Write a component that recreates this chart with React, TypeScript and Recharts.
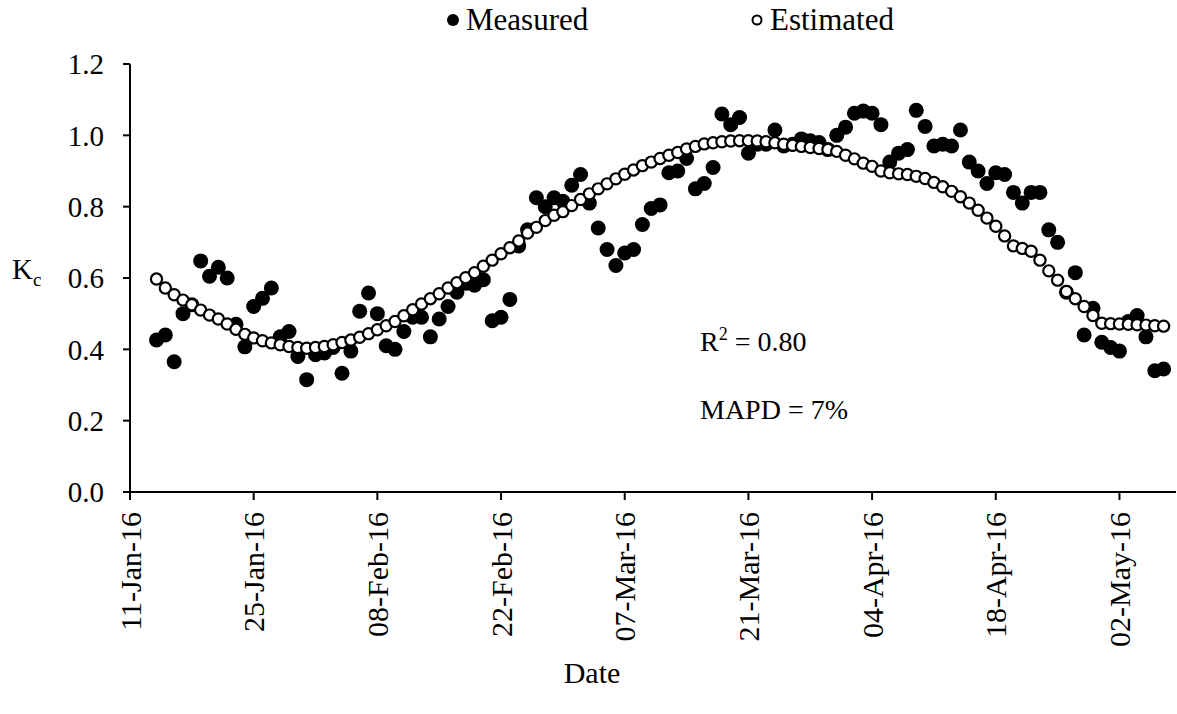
import { ScatterChart, Scatter, XAxis, YAxis, Legend } from "recharts";

const FONT = '"Liberation Serif", "Times New Roman", serif';

// x axis: days counted from 11-Jan-16, ticks every two weeks
const tickDays = [0, 14, 28, 42, 56, 70, 84, 98, 112];
const tickLabels = [
  "11-Jan-16", "25-Jan-16", "08-Feb-16", "22-Feb-16", "07-Mar-16",
  "21-Mar-16", "04-Apr-16", "18-Apr-16", "02-May-16",
];
const yTicks = [0, 0.2, 0.4, 0.6, 0.8, 1.0, 1.2];

// first observation is 13-Jan-16 (day 3 from the axis origin), one value per day
const firstDay = 3;

const measured = [
  0.426, 0.44, 0.365, 0.5, 0.525, 0.648, 0.605, 0.63, 0.6, 0.47,
  0.407, 0.52, 0.543, 0.572, 0.435, 0.45, 0.38, 0.315, 0.385, 0.39,
  0.405, 0.333, 0.395, 0.507, 0.558, 0.5, 0.41, 0.4, 0.45, 0.49,
  0.49, 0.435, 0.485, 0.52, 0.56, 0.585, 0.58, 0.595, 0.48, 0.49,
  0.54, 0.69, 0.735, 0.825, 0.8, 0.825, 0.815, 0.86, 0.89, 0.81,
  0.74, 0.68, 0.635, 0.67, 0.68, 0.75, 0.795, 0.805, 0.895, 0.9,
  0.935, 0.85, 0.865, 0.91, 1.06, 1.03, 1.05, 0.95, 0.975, 0.975,
  1.015, 0.97, 0.975, 0.99, 0.985, 0.98, 0.96, 1.0, 1.023, 1.062,
  1.068, 1.062, 1.03, 0.925, 0.95, 0.96, 1.07, 1.025, 0.97, 0.975,
  0.97, 1.015, 0.925, 0.9, 0.865, 0.895, 0.89, 0.84, 0.81, 0.84,
  0.84, 0.735, 0.7, 0.56, 0.615, 0.44, 0.515, 0.42, 0.405, 0.395,
  0.478, 0.495, 0.435, 0.34, 0.345,
];

const estimated = [
  0.597, 0.572, 0.553, 0.538, 0.525, 0.51, 0.496, 0.485, 0.471, 0.456,
  0.442, 0.432, 0.424, 0.418, 0.413, 0.408, 0.405, 0.403, 0.405, 0.408,
  0.413, 0.419, 0.426, 0.434, 0.444, 0.455, 0.466, 0.478, 0.494, 0.511,
  0.527, 0.542, 0.556, 0.572, 0.587, 0.601, 0.615, 0.633, 0.65, 0.668,
  0.685, 0.704, 0.726, 0.742, 0.761, 0.776, 0.786, 0.803, 0.82, 0.836,
  0.85, 0.864, 0.878, 0.891, 0.903, 0.915, 0.925, 0.935, 0.944, 0.952,
  0.962, 0.969, 0.976, 0.979, 0.982, 0.984, 0.985, 0.985, 0.984, 0.982,
  0.979, 0.975, 0.972, 0.969, 0.966, 0.963, 0.96, 0.955, 0.944, 0.934,
  0.922, 0.913, 0.9, 0.895, 0.892, 0.89, 0.885, 0.879, 0.868, 0.856,
  0.843, 0.828, 0.81, 0.79, 0.768, 0.745, 0.718, 0.69, 0.683, 0.675,
  0.65, 0.62, 0.594, 0.562, 0.542, 0.52, 0.495, 0.473, 0.472, 0.471,
  0.47, 0.469, 0.468, 0.466, 0.465,
];

const measuredData = measured.map((kc, i) => ({ day: firstDay + i, kc }));
const estimatedData = estimated.map((kc, i) => ({ day: firstDay + i, kc }));

function DateTick({ x, y, payload }: any) {
  const label = tickLabels[tickDays.indexOf(payload.value)];
  return (
    <text
      x={x}
      y={y}
      dy="0.35em"
      textAnchor="end"
      transform={`rotate(-90, ${x}, ${y})`}
      fontSize={30}
      fontFamily={FONT}
      fill="#000"
    >
      {label}
    </text>
  );
}

function FilledDot({ cx, cy }: any) {
  return <circle cx={cx} cy={cy} r={7.5} fill="#000" />;
}

function OpenDot({ cx, cy }: any) {
  return <circle cx={cx} cy={cy} r={5.6} fill="#fff" stroke="#000" strokeWidth={2.2} />;
}

function LegendBox() {
  const item = { position: "absolute" as const, top: 0, height: 40, display: "flex", alignItems: "center", fontFamily: FONT, fontSize: 31, color: "#000" };
  return (
    <div style={{ position: "relative", width: 1177, height: 40 }}>
      <div style={{ ...item, left: 446 }}>
        <svg width={14} height={14} style={{ marginRight: 6 }}>
          <circle cx={7} cy={7} r={6} fill="#000" />
        </svg>
        Measured
      </div>
      <div style={{ ...item, left: 750 }}>
        <svg width={14} height={14} style={{ marginRight: 6 }}>
          <circle cx={7} cy={7} r={4.5} fill="#fff" stroke="#000" strokeWidth={2} />
        </svg>
        Estimated
      </div>
    </div>
  );
}

export default function App() {
  return (
    <div style={{ position: "absolute", left: 0, top: 0, width: 1177, height: 714, background: "#fff" }}>
      <ScatterChart width={1177} height={714} margin={{ top: 24, right: 1, bottom: 0, left: 0 }}>
        <Legend verticalAlign="top" align="left" content={<LegendBox />} wrapperStyle={{ top: 0, left: 0, width: 1177, height: 40 }} />
        <XAxis
          dataKey="day"
          type="number"
          domain={[0, 118.4]}
          ticks={tickDays}
          interval={0}
          height={222}
          tickSize={8}
          tickMargin={12}
          tick={<DateTick />}
          axisLine={{ stroke: "#000", strokeWidth: 2 }}
          tickLine={{ stroke: "#000", strokeWidth: 2 }}
        />
        <YAxis
          dataKey="kc"
          type="number"
          domain={[0, 1.2]}
          ticks={yTicks}
          interval={0}
          width={130}
          tickSize={7}
          tickMargin={19}
          tickFormatter={(v: number) => v.toFixed(1)}
          tick={{ fill: "#000", fontSize: 29, fontFamily: FONT }}
          axisLine={{ stroke: "#000", strokeWidth: 2 }}
          tickLine={{ stroke: "#000", strokeWidth: 2 }}
        />
        <Scatter name="Measured" data={measuredData} shape={<FilledDot />} isAnimationActive={false} />
        <Scatter name="Estimated" data={estimatedData} shape={<OpenDot />} isAnimationActive={false} />
        <text x={12} y={279} fontFamily={FONT} fontSize={29} fill="#000">
          K<tspan fontSize={19} dy={7}>c</tspan>
        </text>
        <text x={700} y={351} fontFamily={FONT} fontSize={28} fill="#000">
          R<tspan fontSize={18} dy={-11}>2</tspan>
          <tspan dy={11}> = 0.80</tspan>
        </text>
        <text x={700} y={419} fontFamily={FONT} fontSize={28} fill="#000">
          MAPD = 7%
        </text>
        <text x={592} y={683} textAnchor="middle" fontFamily={FONT} fontSize={30} fill="#000">
          Date
        </text>
      </ScatterChart>
    </div>
  );
}
